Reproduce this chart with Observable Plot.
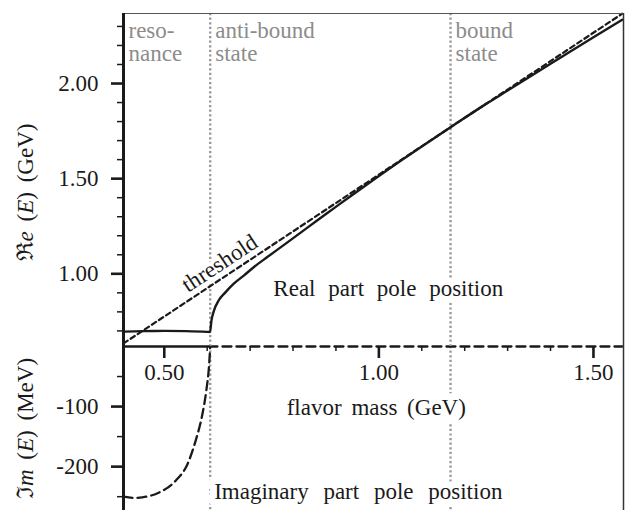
<!DOCTYPE html>
<html>
<head>
<meta charset="utf-8">
<script src="https://cdn.jsdelivr.net/npm/d3@7"></script>
<script src="https://cdn.jsdelivr.net/npm/@observablehq/plot@0.6"></script>
<style>
  body { margin: 0; background: #fff; }
  #chart { position: relative; width: 628px; height: 510px; overflow: hidden; background: #fff; }
  #chart svg { position: absolute; left: 0; }
  #chart svg, #chart svg text, #chart svg tspan { font-family: "Liberation Serif", "DejaVu Serif", serif !important; }
</style>
</head>
<body>
<div id="chart"></div>
<script>
// ---- data ----
// flavor mass (GeV) and real part of the pole position (GeV)
const reMass   = [0.405, 0.45, 0.50, 0.55, 0.60, 0.6065, 0.610, 0.616, 0.627, 0.643, 0.662, 0.686, 0.709, 0.740, 0.779, 0.817, 0.856, 0.895, 0.934, 1.00, 1.05, 1.10, 1.167, 1.25, 1.30, 1.40, 1.50, 1.567];
const reEnergy = [0.696, 0.699, 0.700, 0.699, 0.695, 0.694, 0.755, 0.808, 0.861, 0.904, 0.948, 0.992, 1.036, 1.088, 1.152, 1.215, 1.280, 1.344, 1.408, 1.514, 1.5925, 1.6695, 1.770, 1.893, 1.963, 2.104, 2.243, 2.335];
// threshold (GeV)
const thrMass   = [0.405, 1.00, 1.567];
const thrEnergy = [0.634, 1.521, 2.367];
// imaginary part of the pole position (MeV)
const imMass  = [0.405, 0.43, 0.449, 0.488, 0.527, 0.554, 0.573, 0.589, 0.598, 0.604, 0.6065, 0.607, 1.567];
const imValue = [-250, -252, -251, -243, -223, -196, -157, -112, -73, -35, -7, 0, 0];
// region boundaries and labels
const regionStart  = [0.405, 0.607, 1.167];
const regionLabels = ["reso-\nnance", "anti-bound\nstate", "bound\nstate"];
const boundaries   = [0.607, 1.167];
// text labels
const reTitle = "Real part pole position";
const imTitle = "Imaginary part pole position";
const xTitle = "flavor mass (GeV)";
const reAxisTitle = "ℜe (E) (GeV)";
const imAxisTitle = "ℑm (E) (MeV)";
// ticks
const massTicks = [0.5, 1.0, 1.5];
const massMinor = [0.6, 0.7, 0.8, 0.9, 1.1, 1.2, 1.3, 1.4];
const reTicks = [1.0, 1.5, 2.0];
const reMinor = [0.7, 0.8, 0.9, 1.1, 1.2, 1.3, 1.4, 1.6, 1.7, 1.8, 1.9, 2.1, 2.2, 2.3];
const imTicks = [-100, -200];
const imMinor = [-50, -150, -250];

// ---- tables ----
const reData  = reMass.map((m, i) => ({m, e: reEnergy[i]}));
const thrData = thrMass.map((m, i) => ({m, e: thrEnergy[i]}));
const imData  = imMass.map((m, i) => ({m, v: imValue[i]}));

const serif = "'Liberation Serif', 'DejaVu Serif', serif";
const ink = "#1a1a1a";
const grey = "#8c8c8c";
const dotted = "#9a9a9a";
const xDomain = [0.405, 1.570];

const baseStyle = "background: transparent; font-family: 'Liberation Serif', 'DejaVu Serif', serif; font-size: 23px; color: #1a1a1a; overflow: visible;";
const halo = {stroke: "white", strokeWidth: 14, strokeLinejoin: "round", paintOrder: "stroke"};

// ---- upper panel: real part ----
const upper = Plot.plot({
  width: 628, height: 420,
  marginLeft: 123, marginRight: 5, marginTop: 13, marginBottom: 74,
  x: {domain: xDomain},
  y: {domain: [0.618, 2.368]},
  style: baseStyle,
  marks: [
    Plot.ruleX(boundaries, {stroke: dotted, strokeWidth: 2.4, strokeDasharray: "2.2,2.4"}),
    Plot.text(regionLabels, {x: regionStart, frameAnchor: "top", textAnchor: "start", lineAnchor: "top", dx: 5, dy: 7.7, fill: grey, fontSize: 23, fontFamily: serif, lineHeight: 1}),
    Plot.text([reTitle], {x: 1.022, y: 0.9205, textAnchor: "middle", fill: ink, fontSize: 23, fontFamily: serif, ...halo}),
    Plot.text(["threshold"], {x: 0.629, y: 1.055, rotate: -33.5, fill: ink, fontSize: 23, fontFamily: serif, ...halo, strokeWidth: 8}),
    Plot.line(thrData, {x: "m", y: "e", stroke: ink, strokeWidth: 2.2, strokeDasharray: "5,3.5"}),
    Plot.line(reData, {x: "m", y: "e", stroke: ink, strokeWidth: 2.4, curve: "monotone-x"}),
    Plot.ruleY([0.618], {x1: xDomain[0], x2: boundaries[0], stroke: ink, strokeWidth: 2.6}),
    Plot.ruleY([2.368], {stroke: "#555", strokeWidth: 1.1}),
    Plot.ruleX([xDomain[1]], {stroke: "#333", strokeWidth: 1.5}),
    Plot.ruleX([xDomain[0]], {stroke: ink, strokeWidth: 3}),
    Plot.axisY(reTicks, {anchor: "left", tickSize: 12, tickPadding: 13, strokeWidth: 2.6, tickFormat: d3.format(".2f"), label: null, fontSize: 23, fontFamily: serif}),
    Plot.axisY(reMinor, {anchor: "left", tickSize: 6, strokeWidth: 1.5, fill: "none", label: null}),
    Plot.axisX(massTicks, {anchor: "bottom", tickSize: 12, tickPadding: 5, strokeWidth: 2.6, tickFormat: d3.format(".2f"), label: null, fontSize: 23, fontFamily: serif}),
    Plot.axisX(massMinor, {anchor: "bottom", tickSize: 5, strokeWidth: 1.5, fill: "none", label: null}),
    Plot.text([reAxisTitle], {frameAnchor: "left", textAnchor: "middle", dx: -98, dy: 12.5, rotate: -90, fill: ink, fontSize: 23, fontFamily: serif})
  ]
});

// ---- lower panel: imaginary part ----
const lower = Plot.plot({
  width: 628, height: 164,
  marginLeft: 123, marginRight: 5, marginTop: 0, marginBottom: 0,
  x: {domain: xDomain, axis: null},
  y: {domain: [-273, 0]},
  style: baseStyle,
  marks: [
    Plot.ruleX(boundaries, {stroke: dotted, strokeWidth: 2.4, strokeDasharray: "2.2,2.4"}),
    Plot.text([xTitle], {x: 0.994, y: -101, textAnchor: "middle", fill: ink, fontSize: 23, fontFamily: serif, ...halo}),
    Plot.text([imTitle], {x: 0.952, y: -241, textAnchor: "middle", fill: ink, fontSize: 23, fontFamily: serif, ...halo}),
    Plot.line(imData, {x: "m", y: "v", stroke: ink, strokeWidth: 2.3, strokeDasharray: "9,5", curve: "monotone-x"}),
    Plot.ruleX([xDomain[1]], {stroke: "#333", strokeWidth: 1.5}),
    Plot.ruleX([xDomain[0]], {stroke: ink, strokeWidth: 3}),
    Plot.axisY(imTicks, {anchor: "left", tickSize: 12, tickPadding: 13, strokeWidth: 2.6, tickFormat: d => String(d), label: null, fontSize: 23, fontFamily: serif}),
    Plot.axisY(imMinor, {anchor: "left", tickSize: 6, strokeWidth: 1.5, fill: "none", label: null}),
    Plot.text([imAxisTitle], {frameAnchor: "left", textAnchor: "middle", dx: -98, rotate: -90, fill: ink, fontSize: 23, fontFamily: serif})
  ]
});

upper.style.top = "0px";  upper.style.zIndex = "2";
lower.style.top = "346px"; lower.style.zIndex = "1";
const chart = document.getElementById("chart");
chart.appendChild(lower);
chart.appendChild(upper);

// typographic touches: wide word spacing and italic symbols (matched by content)
const ns = "http://www.w3.org/2000/svg";
const allTexts = Array.from(document.querySelectorAll("#chart svg text"));
allTexts.forEach(t => t.setAttribute("font-family", serif));
const textsWith = (s) => allTexts.filter(t => t.textContent === s);
const spaceWords = (s, extra) => {
  textsWith(s).forEach(t => {
    const words = s.split(" ");
    t.textContent = "";
    words.forEach((w, i) => {
      const sp = document.createElementNS(ns, "tspan");
      sp.textContent = (i ? " " : "") + w;
      if (i) sp.setAttribute("dx", extra);
      t.appendChild(sp);
    });
  });
};
spaceWords(reTitle, 7);
spaceWords(imTitle, 9);
spaceWords(xTitle, 4);
const setLabel = (s, letter, italic, unit) => {
  textsWith(s).forEach(t => {
    t.textContent = "";
    const parts = [[letter, false, 0], [italic, true, 0], [" (", false, 4], ["E", true, 0], [")", false, 0], [" (" + unit + ")", false, 4]];
    parts.forEach(([str, it, dx]) => {
      const sp = document.createElementNS(ns, "tspan");
      sp.textContent = str;
      if (it) sp.setAttribute("font-style", "italic");
      if (dx) sp.setAttribute("dx", dx);
      t.appendChild(sp);
    });
  });
};
setLabel(reAxisTitle, "ℜ", "e", "GeV");
setLabel(imAxisTitle, "ℑ", "m", "MeV");
</script>
</body>
</html>
